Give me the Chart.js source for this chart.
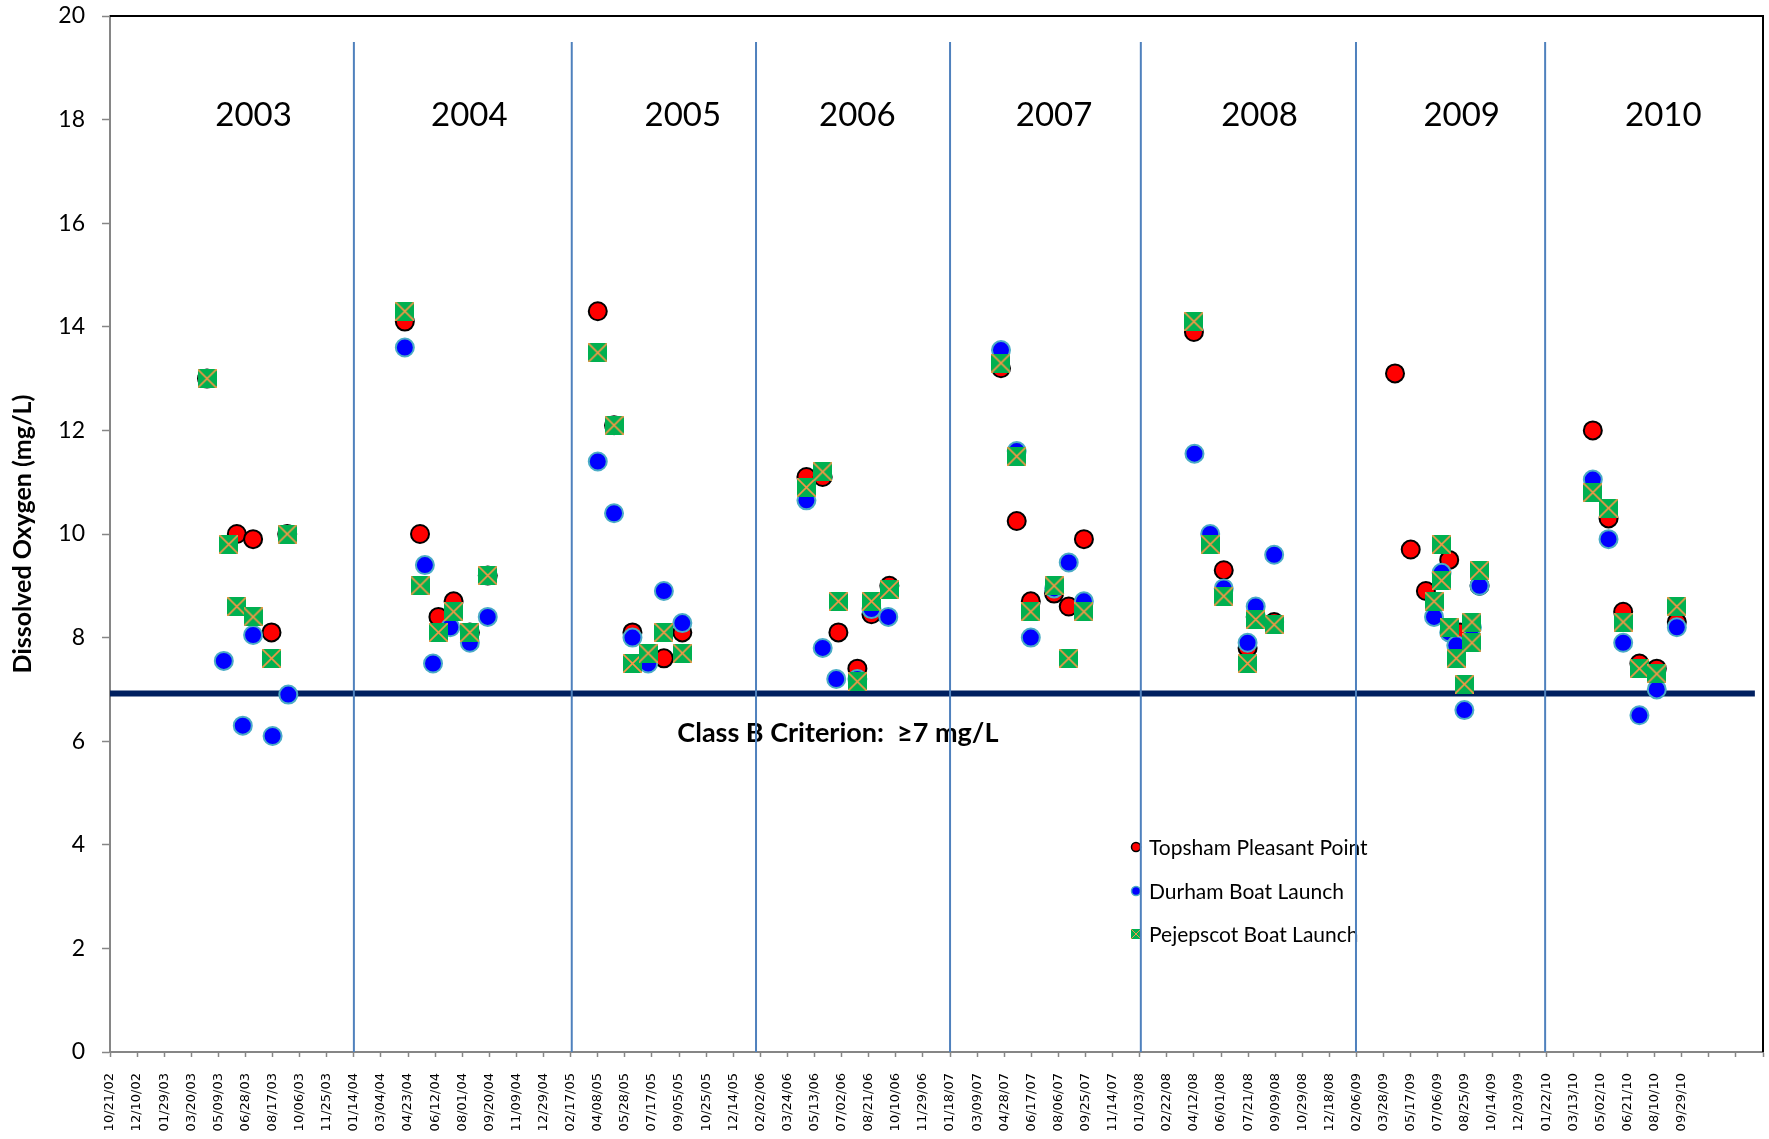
<!DOCTYPE html>
<html>
<head>
<meta charset="utf-8">
<script src="https://cdn.jsdelivr.net/npm/chart.js@4.4.1/dist/chart.umd.min.js"></script>
<style>
html,body{margin:0;padding:0;background:#fff;}
#wrap{width:1769px;height:1139px;position:relative;}
canvas{display:block;}
</style>
</head>
<body>
<div id="wrap"><canvas id="c" width="1769" height="1139"></canvas></div>
<script>
// ---------------- DATA ----------------
const seriesNames = ['Topsham Pleasant Point', 'Durham Boat Launch', 'Pejepscot Boat Launch'];

const topshamDates = [
  '2003-04-18','2003-06-12','2003-07-12','2003-08-15','2003-09-13',
  '2004-04-17','2004-05-15','2004-06-18','2004-07-16','2004-08-15','2004-09-17',
  '2005-04-08','2005-05-08','2005-06-11','2005-08-08','2005-09-11',
  '2006-04-28','2006-05-28','2006-06-26','2006-07-31','2006-08-26','2006-09-28',
  '2007-04-22','2007-05-21','2007-06-16','2007-07-29','2007-08-25','2007-09-22',
  '2008-04-12','2008-06-06','2008-07-20','2008-08-04','2008-09-07',
  '2009-04-18','2009-05-17','2009-06-14','2009-07-27','2009-08-16','2009-09-21',
  '2010-04-18','2010-05-17','2010-06-13','2010-07-13','2010-08-14','2010-09-20'
];
const topshamDO = [
  13.0, 10.0, 9.9, 8.1, 10.0,
  14.1, 10.0, 8.4, 8.7, 8.1, 9.2,
  14.3, 12.1, 8.1, 7.6, 8.1,
  11.1, 11.1, 8.1, 7.4, 8.45, 9.0,
  13.2, 10.25, 8.7, 8.85, 8.6, 9.9,
  13.9, 9.3, 7.8, 8.4, 8.3,
  13.1, 9.7, 8.9, 9.5, 8.1, 9.0,
  12.0, 10.3, 8.5, 7.5, 7.4, 8.3
];

const durhamDates = [
  '2003-05-19','2003-06-23','2003-07-12','2003-08-17','2003-09-15',
  '2004-04-17','2004-05-24','2004-06-08','2004-07-10','2004-08-15','2004-09-17',
  '2005-04-08','2005-05-08','2005-06-11','2005-07-10','2005-08-08','2005-09-11',
  '2006-04-28','2006-05-28','2006-06-22','2006-07-31','2006-08-26','2006-09-26',
  '2007-04-22','2007-05-21','2007-06-16','2007-07-29','2007-08-25','2007-09-22',
  '2008-04-13','2008-05-12','2008-06-06','2008-07-20','2008-08-04','2008-09-07',
  '2009-06-29','2009-07-13','2009-07-27','2009-08-09','2009-08-24','2009-09-07','2009-09-21',
  '2010-04-18','2010-05-17','2010-06-13','2010-07-13','2010-08-14','2010-09-20'
];
const durhamDO = [
  7.55, 6.3, 8.05, 6.1, 6.9,
  13.6, 9.4, 7.5, 8.2, 7.9, 8.4,
  11.4, 10.4, 8.0, 7.5, 8.9, 8.28,
  10.65, 7.8, 7.2, 7.2, 8.55, 8.4,
  13.55, 11.6, 8.0, 8.95, 9.45, 8.7,
  11.55, 10.0, 8.95, 7.9, 8.6, 9.6,
  8.4, 9.25, 8.1, 7.85, 6.6, 8.2, 9.0,
  11.05, 9.9, 7.9, 6.5, 7.0, 8.2
];

const pejepscotDates = [
  '2003-04-18','2003-05-28','2003-06-12','2003-07-12','2003-08-15','2003-09-13',
  '2004-04-17','2004-05-15','2004-06-18','2004-07-16','2004-08-15','2004-09-17',
  '2005-04-08','2005-05-08','2005-06-11','2005-07-10','2005-08-08','2005-09-11',
  '2006-04-28','2006-05-28','2006-06-26','2006-07-31','2006-08-26','2006-09-28',
  '2007-04-22','2007-05-21','2007-06-16','2007-07-29','2007-08-25','2007-09-22',
  '2008-04-12','2008-05-12','2008-06-06','2008-07-20','2008-08-04','2008-09-07',
  '2009-06-29','2009-07-13','2009-07-13','2009-07-27','2009-08-09','2009-08-24','2009-09-07','2009-09-07','2009-09-21',
  '2010-04-18','2010-05-17','2010-06-13','2010-07-13','2010-08-14','2010-09-20'
];
const pejepscotDO = [
  13.0, 9.8, 8.6, 8.4, 7.6, 10.0,
  14.3, 9.0, 8.1, 8.5, 8.1, 9.2,
  13.5, 12.1, 7.5, 7.7, 8.1, 7.7,
  10.9, 11.2, 8.7, 7.15, 8.7, 8.93,
  13.3, 11.5, 8.5, 9.0, 7.6, 8.5,
  14.1, 9.8, 8.8, 7.5, 8.35, 8.25,
  8.7, 9.8, 9.1, 8.2, 7.6, 7.1, 8.3, 7.9, 9.3,
  10.8, 10.5, 8.3, 7.4, 7.3, 8.6
];

// year separators and year labels
const yearLabels = ['2003','2004','2005','2006','2007','2008','2009','2010'];
const yearLabelDates = ['2003-07-13','2004-08-14','2005-09-12','2006-07-31','2007-07-29','2008-08-11','2009-08-19','2010-08-26'];
const yearLabelLevel = 18.08;
const yearDividerDates = ['2004-01-14','2005-02-19','2006-01-25','2007-01-18','2008-01-05','2009-02-05','2010-01-20'];
const yearDividerTop = 19.5;

// Class B criterion
const criterionLevel = 6.92;
const criterionEndDate = '2011-02-11';
const criterionLabel = 'Class B Criterion:  \u22657 mg/L';
const criterionLabelDate = '2006-06-25';
const criterionLabelLevel = 6.15;

// axes
const xAxisStartDate = '2002-10-21';
const xAxisEndDate = '2011-02-26';
const xTickStepDays = 50;
const lastLabelledDate = '2010-09-29';
const yMin = 0, yMax = 20, yStep = 2;
const yTitle = 'Dissolved Oxygen (mg/L)';

// ---------------- HELPERS ----------------
const EPOCH = Date.UTC(1899, 11, 30);
function serial(s) {
  const [Y, M, D] = s.split('-').map(Number);
  return Math.round((Date.UTC(Y, M - 1, D) - EPOCH) / 86400000);
}
function pad(n) { return (n < 10 ? '0' : '') + n; }
function fmtDate(v) {
  const d = new Date(EPOCH + Math.round(v) * 86400000);
  return pad(d.getUTCMonth() + 1) + '/' + pad(d.getUTCDate()) + '/' + pad(d.getUTCFullYear() % 100);
}
function pts(dates, vals) { return dates.map((d, i) => ({ x: serial(d), y: vals[i] })); }

function squareX(size, lw) {
  const c = document.createElement('canvas');
  c.width = size; c.height = size;
  const g = c.getContext('2d');
  g.fillStyle = '#00B050';
  g.fillRect(0, 0, size, size);
  g.strokeStyle = '#F79646';
  g.lineWidth = lw;
  g.beginPath();
  g.moveTo(0, 0); g.lineTo(size, size);
  g.moveTo(size, 0); g.lineTo(0, size);
  g.stroke();
  return c;
}

const xMin = serial(xAxisStartDate);
const xMax = serial(xAxisEndDate);
const xLastLabel = serial(lastLabelledDate);

const RED = '#FF0000', BLUE = '#0000FF', BLUE_EDGE = '#4BACC6';
const greenMarker = squareX(19, 1.6);
const greenLegendMarker = squareX(10, 1);

const datasets = [
  { label: seriesNames[0], data: pts(topshamDates, topshamDO), pointStyle: 'circle', pointRadius: 9,
    backgroundColor: RED, borderColor: '#000000', borderWidth: 2, order: 2 },
  { label: seriesNames[1], data: pts(durhamDates, durhamDO), pointStyle: 'circle', pointRadius: 9,
    backgroundColor: BLUE, borderColor: BLUE_EDGE, borderWidth: 2, order: 1 },
  { label: seriesNames[2], data: pts(pejepscotDates, pejepscotDO), pointStyle: greenMarker, pointRadius: 9.5,
    backgroundColor: '#00B050', borderColor: '#F79646', order: 0 },
  { label: 'criterion', data: [{ x: xMin, y: criterionLevel }, { x: serial(criterionEndDate), y: criterionLevel }],
    showLine: true, borderColor: '#002060', borderWidth: 6, pointRadius: 0, order: 6, borderCapStyle: 'butt' }
];
yearDividerDates.forEach(d => {
  datasets.push({ label: 'divider', data: [{ x: serial(d), y: yMin }, { x: serial(d), y: yearDividerTop }],
    showLine: true, borderColor: '#4F81BD', borderWidth: 2, pointRadius: 0, order: 5 });
});

const overlay = {
  id: 'overlay',
  beforeDatasetsDraw(chart) {
    const { ctx, chartArea: a } = chart;
    const x = chart.scales.x, y = chart.scales.y;
    ctx.save();
    ctx.fillStyle = '#000';
    ctx.textAlign = 'center';
    ctx.textBaseline = 'middle';
    ctx.font = '33px Lato';
    yearLabels.forEach((t, i) => {
      ctx.fillText(t, x.getPixelForValue(serial(yearLabelDates[i])), y.getPixelForValue(yearLabelLevel));
    });
    ctx.font = 'bold 27px Lato';
    ctx.fillText(criterionLabel, x.getPixelForValue(serial(criterionLabelDate)), y.getPixelForValue(criterionLabelLevel));

    // legend
    const lx = a.left + 1026, tx = a.left + 1039;
    const rows = [a.top + 831, a.top + 875, a.top + 918];
    ctx.textAlign = 'left';
    ctx.font = '21px Lato';
    seriesNames.forEach((name, i) => {
      const cy = rows[i];
      if (i === 2) {
        ctx.drawImage(greenLegendMarker, lx - 5, cy - 5, 10, 10);
      } else {
        ctx.beginPath();
        ctx.arc(lx, cy, 4.5, 0, Math.PI * 2);
        ctx.fillStyle = i === 0 ? RED : BLUE;
        ctx.fill();
        ctx.lineWidth = 1.5;
        ctx.strokeStyle = i === 0 ? '#000' : BLUE_EDGE;
        ctx.stroke();
      }
      ctx.fillStyle = '#000';
      ctx.fillText(name, tx, cy + 1);
    });
    ctx.restore();
  },
  afterDraw(chart) {
    const { ctx, chartArea: a } = chart;
    ctx.save();
    ctx.strokeStyle = '#000';
    ctx.lineWidth = 2;
    ctx.beginPath();
    ctx.moveTo(a.left, a.top);
    ctx.lineTo(a.right, a.top);
    ctx.lineTo(a.right, a.bottom);
    ctx.stroke();
    ctx.restore();
  }
};

new Chart(document.getElementById('c'), {
  type: 'scatter',
  data: { datasets },
  plugins: [overlay],
  options: {
    responsive: false,
    animation: false,
    events: [],
    layout: { autoPadding: false, padding: { top: 16, right: 6, left: 0, bottom: 0 } },
    plugins: { legend: { display: false }, tooltip: { enabled: false } },
    scales: {
      x: {
        type: 'linear', min: xMin, max: xMax,
        afterFit: s => { s.height = 87; s.paddingLeft = 0; s.paddingRight = 0; },
        border: { display: true, color: '#868686', width: 2 },
        grid: { display: true, drawOnChartArea: false, drawTicks: true, tickLength: 5, tickColor: '#868686', tickWidth: 1.5 },
        ticks: {
          stepSize: xTickStepDays, autoSkip: false, maxTicksLimit: 1000, minRotation: 90, maxRotation: 90,
          padding: 16, color: '#000', font: { family: 'DejaVu Sans', size: 13 },
          callback: v => (v <= xLastLabel ? fmtDate(v) : '')
        }
      },
      y: {
        min: yMin, max: yMax,
        afterFit: s => { s.width = 110; s.paddingTop = 0; s.paddingBottom = 0; },
        border: { display: true, color: '#868686', width: 2 },
        grid: { display: true, drawOnChartArea: false, drawTicks: true, tickLength: 8, tickColor: '#868686', tickWidth: 1.5 },
        ticks: { stepSize: yStep, padding: 17, color: '#000', font: { family: 'Lato', size: 23 } },
        title: { display: true, text: yTitle, color: '#000', font: { family: 'Lato', size: 25, weight: 'bold' }, padding: { top: 8, bottom: 0 } }
      }
    }
  }
});
</script>
</body>
</html>
